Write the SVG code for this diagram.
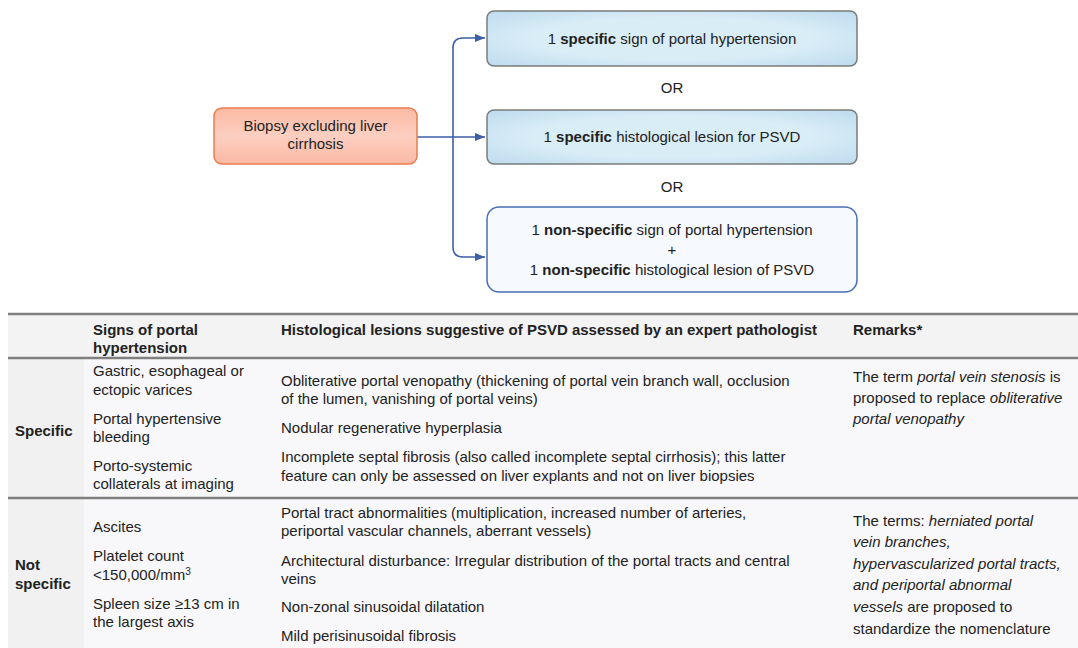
<svg xmlns="http://www.w3.org/2000/svg" width="1078" height="648" viewBox="0 0 1078 648">
<defs>
<linearGradient id="gOrange" x1="0" y1="0" x2="0" y2="1">
<stop offset="0" stop-color="#fbb9a4"/><stop offset="0.5" stop-color="#fdcfc1"/><stop offset="1" stop-color="#fbb9a4"/>
</linearGradient>
<radialGradient id="gBlue" cx="0.5" cy="0.5" r="0.75">
<stop offset="0.5" stop-color="#d9edf7"/><stop offset="1" stop-color="#b9d8ec"/>
</radialGradient>
<marker id="arr" viewBox="0 0 10 10" refX="10" refY="5" markerWidth="10" markerHeight="10" markerUnits="userSpaceOnUse" orient="auto">
<path d="M0,1 L10,5 L0,9 z" fill="#3c5fa8"/>
</marker>
</defs>
<style>
text{font-family:"Liberation Sans",Arial,sans-serif;fill:#222;}
.d{font-size:15px;}
.t{font-size:15px;}
.h{font-size:15px;font-weight:bold;}
.b{font-weight:bold;}
.i{font-style:italic;}
.line{stroke:#7f7f7f;stroke-width:2.5;}
.conn{fill:none;stroke:#3c5fa8;stroke-width:1.6;}
</style>
<rect width="1078" height="648" fill="#ffffff"/>

<g id="connectors">
<path class="conn" d="M417,137 H485" marker-end="url(#arr)"/>
<path class="conn" d="M453,137 V48 Q453,38 463,38 H485" marker-end="url(#arr)"/>
<path class="conn" d="M453,137 V247 Q453,257 463,257 H485" marker-end="url(#arr)"/>
</g>

<g id="node-biopsy">
<rect x="214" y="108" width="203" height="56" rx="8" fill="url(#gOrange)" stroke="#ec7c4e" stroke-width="1.5"/>
<text class="d" x="315.5" y="131" text-anchor="middle">Biopsy excluding liver</text>
<text class="d" x="315.5" y="149" text-anchor="middle">cirrhosis</text>
</g>

<g id="node-specific-sign">
<rect x="487" y="11" width="370" height="55" rx="7" fill="url(#gBlue)" stroke="#7b7b7b" stroke-width="1.5"/>
<text class="d" x="672" y="44" text-anchor="middle">1 <tspan class="b">specific</tspan> sign of portal hypertension</text>
</g>

<g id="or1"><text class="d" x="672" y="93" text-anchor="middle">OR</text></g>

<g id="node-specific-lesion">
<rect x="487" y="110" width="370" height="54" rx="7" fill="url(#gBlue)" stroke="#7b7b7b" stroke-width="1.5"/>
<text class="d" x="672" y="142" text-anchor="middle">1 <tspan class="b">specific</tspan> histological lesion for PSVD</text>
</g>

<g id="or2"><text class="d" x="672" y="192" text-anchor="middle">OR</text></g>

<g id="node-nonspecific">
<rect x="487" y="207" width="370" height="85" rx="12" fill="#f6f9fd" stroke="#4a6fb3" stroke-width="1.5"/>
<text class="d" x="672" y="235" text-anchor="middle">1 <tspan class="b">non-specific</tspan> sign of portal hypertension</text>
<text class="d" x="672" y="255" text-anchor="middle">+</text>
<text class="d" x="672" y="275" text-anchor="middle">1 <tspan class="b">non-specific</tspan> histological lesion of PSVD</text>
</g>

<g id="table">
<rect x="8" y="314" width="1070" height="334" fill="#f8f8fa"/>
<rect x="8" y="314" width="1070" height="44" fill="#f3f3f4"/>
<rect x="8" y="358" width="76" height="290" fill="#f1f1f2"/>
<line class="line" x1="8" y1="314" x2="1078" y2="314"/>
<line class="line" x1="8" y1="358" x2="1078" y2="358"/>
<line class="line" x1="8" y1="498" x2="1078" y2="498"/>

<text class="h" x="93" y="335">Signs of portal</text>
<text class="h" x="93" y="353">hypertension</text>
<text class="h" x="281" y="335">Histological lesions suggestive of PSVD assessed by an expert pathologist</text>
<text class="h" x="853" y="335">Remarks*</text>

<text class="h" x="15" y="436">Specific</text>
<text class="t" x="93" y="376">Gastric, esophageal or</text>
<text class="t" x="93" y="395">ectopic varices</text>
<text class="t" x="93" y="424">Portal hypertensive</text>
<text class="t" x="93" y="442">bleeding</text>
<text class="t" x="93" y="471">Porto-systemic</text>
<text class="t" x="93" y="489">collaterals at imaging</text>

<text class="t" x="281" y="386">Obliterative portal venopathy (thickening of portal vein branch wall, occlusion</text>
<text class="t" x="281" y="404">of the lumen, vanishing of portal veins)</text>
<text class="t" x="281" y="433">Nodular regenerative hyperplasia</text>
<text class="t" x="281" y="462">Incomplete septal fibrosis (also called incomplete septal cirrhosis); this latter</text>
<text class="t" x="281" y="481">feature can only be assessed on liver explants and not on liver biopsies</text>

<text class="t" x="853" y="382">The term <tspan class="i">portal vein stenosis</tspan> is</text>
<text class="t" x="853" y="403">proposed to replace <tspan class="i">obliterative</tspan></text>
<text class="t" x="853" y="424"><tspan class="i">portal venopathy</tspan></text>

<text class="h" x="15" y="570">Not</text>
<text class="h" x="15" y="589">specific</text>
<text class="t" x="93" y="532">Ascites</text>
<text class="t" x="93" y="561">Platelet count</text>
<text class="t" x="93" y="580">&lt;150,000/mm<tspan font-size="10" dy="-5">3</tspan></text>
<text class="t" x="93" y="609">Spleen size ≥13 cm in</text>
<text class="t" x="93" y="627">the largest axis</text>

<text class="t" x="281" y="518">Portal tract abnormalities (multiplication, increased number of arteries,</text>
<text class="t" x="281" y="536">periportal vascular channels, aberrant vessels)</text>
<text class="t" x="281" y="566">Architectural disturbance: Irregular distribution of the portal tracts and central</text>
<text class="t" x="281" y="584">veins</text>
<text class="t" x="281" y="612">Non-zonal sinusoidal dilatation</text>
<text class="t" x="281" y="641">Mild perisinusoidal fibrosis</text>

<text class="t" x="853" y="526">The terms: <tspan class="i">herniated portal</tspan></text>
<text class="t" x="853" y="547"><tspan class="i">vein branches,</tspan></text>
<text class="t" x="853" y="569"><tspan class="i">hypervascularized portal tracts,</tspan></text>
<text class="t" x="853" y="590"><tspan class="i">and periportal abnormal</tspan></text>
<text class="t" x="853" y="612"><tspan class="i">vessels</tspan> are proposed to</text>
<text class="t" x="853" y="634">standardize the nomenclature</text>
</g>
</svg>
